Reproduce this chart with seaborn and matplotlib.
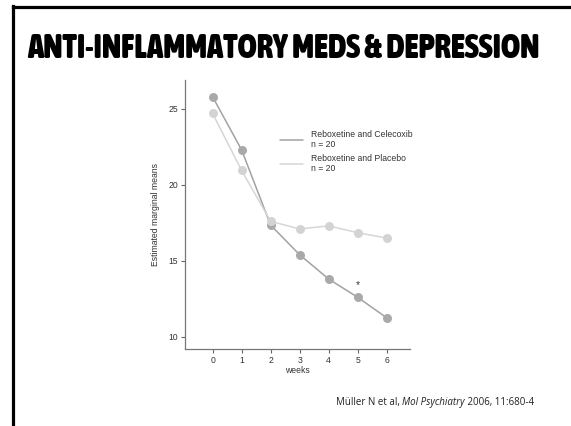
import matplotlib
matplotlib.use("Agg")
import matplotlib.pyplot as plt
from matplotlib.lines import Line2D
from matplotlib import font_manager
import seaborn as sns
import pandas as pd

# Estimated marginal means of depression score per week
weeks = [0, 1, 2, 3, 4, 5, 6]
celecoxib = [25.8, 22.3, 17.35, 15.4, 13.8, 12.6, 11.25]
placebo = [24.7, 20.95, 17.6, 17.1, 17.3, 16.85, 16.5]
groups = ["Reboxetine and Celecoxib", "Reboxetine and Placebo"]
group_n = [20, 20]
y_ticks = [10, 15, 20, 25]

df = pd.DataFrame({
    "week": weeks * 2,
    "mean": celecoxib + placebo,
    "group": [groups[0]] * len(weeks) + [groups[1]] * len(weeks),
})

sns.set_theme(style="white")
plt.rcParams["font.family"] = ["Liberation Sans", "DejaVu Sans"]


def condensed_bold_font():
    """Pick a narrow heavy face for the slide title if one is installed."""
    best = None
    for f in font_manager.fontManager.ttflist:
        narrow = (f.stretch in ("condensed", "semi-condensed", "extra-condensed",
                                "ultra-condensed")
                  or "Condensed" in f.name or "Narrow" in f.name)
        w = f.weight if isinstance(f.weight, int) else 700 if "bold" in str(f.weight) else 400
        if narrow and w >= 700 and f.style == "normal":
            if best is None or w > best[0]:
                best = (w, f.fname)
    if best:
        return font_manager.FontProperties(fname=best[1])
    return font_manager.FontProperties(family=["Liberation Sans", "DejaVu Sans"],
                                       weight="bold")


fig = plt.figure(figsize=(5.71, 4.26), dpi=100)
fig.patch.set_facecolor("white")

ax = fig.add_axes([185 / 571, 1 - 349 / 426, 225 / 571, 269 / 426])

line_colors = {groups[0]: "#a2a2a2", groups[1]: "#d6d6d6"}
marker_colors = {groups[0]: "#a9a9a9", groups[1]: "#d3d3d3"}

for g in groups:
    sub = df[df["group"] == g]
    sns.lineplot(data=sub, x="week", y="mean", ax=ax, color=line_colors[g],
                 linewidth=1.1, legend=False, zorder=2)
    sns.scatterplot(data=sub, x="week", y="mean", ax=ax, color=marker_colors[g],
                    s=42, linewidth=0, legend=False, zorder=3)

# significance marker at week 5
ax.text(5, celecoxib[5] + 0.45, "*", ha="center", va="bottom", fontsize=7.5,
        color="#333333")

ax.set_xlim(-0.95, 6.8)
ax.set_ylim(9.2, 26.9)
ax.set_xticks(weeks)
ax.set_yticks(y_ticks)
ax.set_xlabel("weeks", fontsize=6.2, color="#333333", labelpad=1)
ax.set_ylabel("Estimated marginal means", fontsize=6.2, color="#333333", labelpad=6)
ax.tick_params(axis="both", which="both", direction="out", length=3, width=0.8,
               color="#666666", labelsize=6.2, labelcolor="#333333", pad=2,
               bottom=True, left=True)
for side in ["top", "right"]:
    ax.spines[side].set_visible(False)
for side in ["left", "bottom"]:
    ax.spines[side].set_color("#777777")
    ax.spines[side].set_linewidth(0.9)
ax.set_facecolor("white")

handles = [Line2D([0], [0], color=line_colors[g], lw=1.1) for g in groups]
labels = [f"{g}\nn = {n}" for g, n in zip(groups, group_n)]
leg = ax.legend(handles, labels, loc="upper left", bbox_to_anchor=(0.405, 0.83),
                frameon=False, fontsize=6.2, handlelength=2.6, handletextpad=0.9,
                labelspacing=0.5, borderpad=0)
for t in leg.get_texts():
    t.set_color("#333333")

# slide title, sized to span the slide width but capped in height
title = fig.text(0.497, 1 - 48 / 426, "ANTI-INFLAMMATORY MEDS & DEPRESSION",
                 ha="center", va="center", fontproperties=condensed_bold_font(),
                 color="black")
title.set_fontsize(24)
fig.canvas.draw()
r = fig.canvas.get_renderer()
w = title.get_window_extent(r).width
title.set_fontsize(min(24 * 512 / w, 30))

# citation
cy = 1 - 402 / 426
cite = fig.text(336 / 571, cy, "Müller N et al, ", ha="left", va="center",
                fontsize=7, family=["Open Sans", "DejaVu Sans"], color="#222222")
bb = cite.get_window_extent(r)
it = fig.text(bb.x1 / fig.bbox.width, cy, "Mol Psychiatry", ha="left",
              va="center", fontsize=7, style="italic",
              family=["Open Sans", "DejaVu Sans"], color="#222222")
bb2 = it.get_window_extent(r)
fig.text(bb2.x1 / fig.bbox.width, cy, " 2006, 11:680-4", ha="left",
         va="center", fontsize=7, family=["Open Sans", "DejaVu Sans"],
         color="#222222")

# slide frame: left and top rules
fig.add_artist(Line2D([13 / 571, 13 / 571], [0, 1 - 6 / 426], color="black",
                      lw=2.3, transform=fig.transFigure, solid_capstyle="projecting"))
fig.add_artist(Line2D([13 / 571, 1], [1 - 7 / 426, 1 - 7 / 426], color="black",
                      lw=2.3, transform=fig.transFigure, solid_capstyle="projecting"))

fig.savefig("out.png", dpi=100, facecolor="white")
